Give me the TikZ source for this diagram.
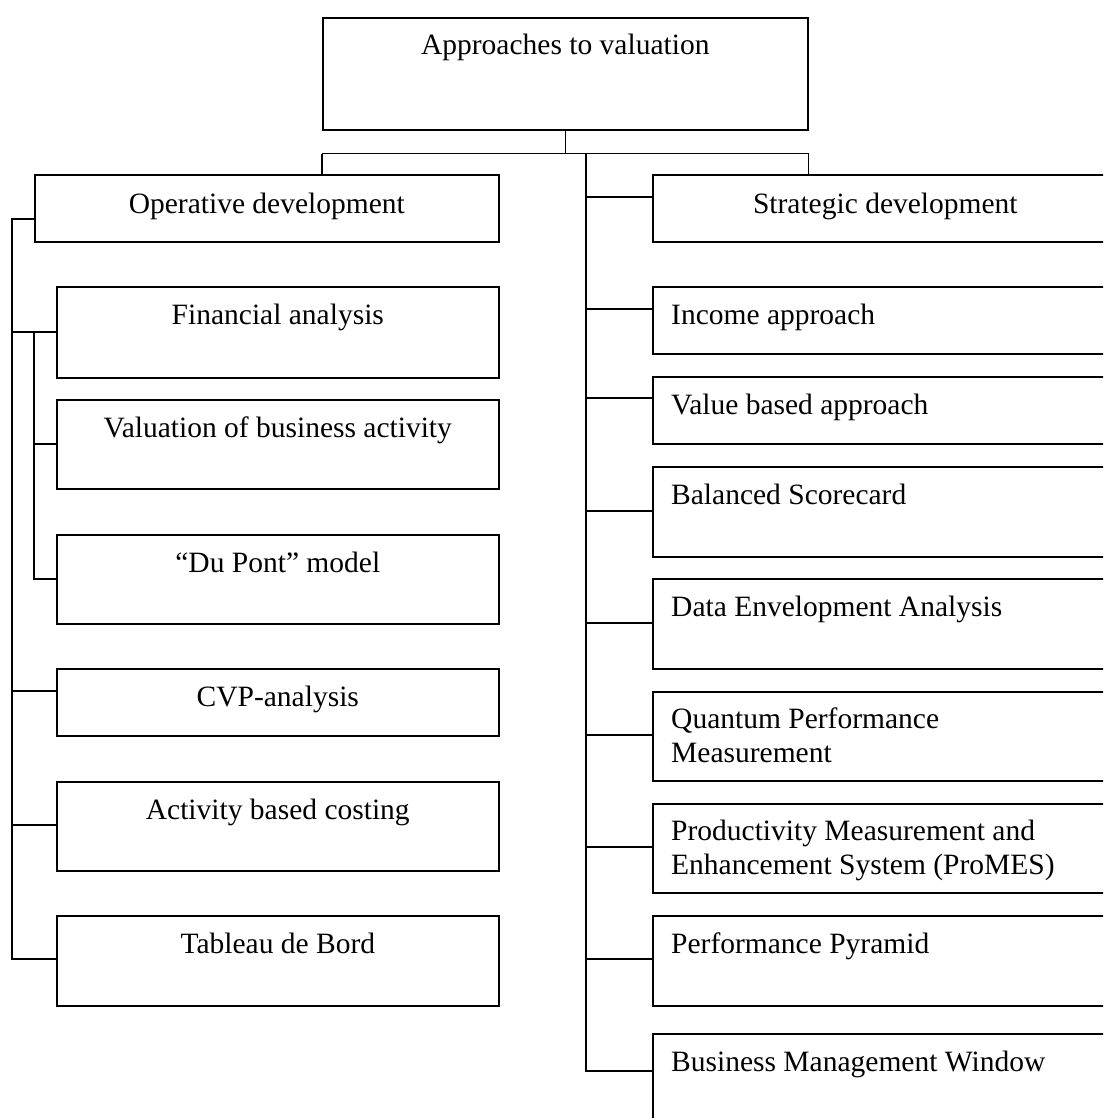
\documentclass[tikz,border=0pt]{standalone}
\usepackage{fontspec}
\setmainfont{Liberation Serif}
\begin{document}
\begin{tikzpicture}[x=1pt,y=1pt,
  box/.style={draw, line width=1.6pt, rectangle, anchor=north west, inner sep=0pt},
  lbox/.style={box, minimum width=442pt},
  rbox/.style={box, minimum width=465pt},
  lbl/.style={inner sep=0pt, font=\fontsize{29.5}{34.5}\selectfont},
  wire/.style={line width=1.6pt}]
\useasboundingbox (0,0) rectangle (1103,-1118);
\clip (0,0) rectangle (1103,-1118);

% boxes
\node[box, minimum width=485pt, minimum height=112pt] (top) at (322,-17) {};
\node[box, minimum width=464pt, minimum height=67pt] (op) at (34,-174) {};
\node[rbox, minimum height=67pt] (st) at (652,-174) {};

\node[lbox, minimum height=91pt] (fin) at (56,-286) {};
\node[lbox, minimum height=89pt] (val) at (56,-399) {};
\node[lbox, minimum height=89pt] (dup) at (56,-534) {};
\node[lbox, minimum height=67pt] (cvp) at (56,-668) {};
\node[lbox, minimum height=89pt] (abc) at (56,-781) {};
\node[lbox, minimum height=90pt] (tab) at (56,-915) {};

\node[rbox, minimum height=67pt] (inc) at (652,-286) {};
\node[rbox, minimum height=67pt] (vba) at (652,-376) {};
\node[rbox, minimum height=90pt] (bsc) at (652,-466) {};
\node[rbox, minimum height=90pt] (dea) at (652,-578) {};
\node[rbox, minimum height=89pt] (qpm) at (652,-691) {};
\node[rbox, minimum height=89pt] (pro) at (652,-803) {};
\node[rbox, minimum height=90pt] (ppy) at (652,-915) {};
\node[rbox, minimum height=110pt] (bmw) at (652,-1033) {};

% texts
\node[lbl, anchor=base] (ttop) at ([yshift=-38pt]top.north) {Approaches to valuation};
\node[lbl, anchor=base] (top1) at ([yshift=-39pt]op.north) {Operative development};
\node[lbl, anchor=base] (tst) at ([yshift=-39pt]st.north) {Strategic development};

\node[lbl, anchor=base] (tfin) at ([yshift=-38pt]fin.north) {Financial analysis};
\node[lbl, anchor=base] (tval) at ([yshift=-38pt]val.north) {Valuation of business activity};
\node[lbl, anchor=base] (tdup) at ([yshift=-38pt]dup.north) {“Du Pont” model};
\node[lbl, anchor=base] (tcvp) at ([yshift=-38pt]cvp.north) {CVP-analysis};
\node[lbl, anchor=base] (tabc) at ([yshift=-38pt]abc.north) {Activity based costing};
\node[lbl, anchor=base] (ttab) at ([yshift=-38pt]tab.north) {Tableau de Bord};

\node[lbl, anchor=base west] (tinc) at ([xshift=19pt,yshift=-38pt]inc.north west) {Income approach};
\node[lbl, anchor=base west] (tvba) at ([xshift=19pt,yshift=-38pt]vba.north west) {Value based approach};
\node[lbl, anchor=base west] (tbsc) at ([xshift=19pt,yshift=-38pt]bsc.north west) {Balanced Scorecard};
\node[lbl, anchor=base west] (tdea) at ([xshift=19pt,yshift=-38pt]dea.north west) {Data Envelopment Analysis};
\node[lbl, anchor=base west] (tqpm) at ([xshift=19pt,yshift=-37pt]qpm.north west) {\vtop{\hbox{Quantum Performance}\hbox{Measurement}}};
\node[lbl, anchor=base west] (tpro) at ([xshift=19pt,yshift=-37pt]pro.north west) {\vtop{\hbox{Productivity Measurement and}\hbox{Enhancement System (ProMES)}}};
\node[lbl, anchor=base west] (tppy) at ([xshift=19pt,yshift=-38pt]ppy.north west) {Performance Pyramid};
\node[lbl, anchor=base west] (tbmw) at ([xshift=19pt,yshift=-38pt]bmw.north west) {Business Management Window};

% top connectors
\draw[wire] (top.south) -- ++(0,-23) coordinate (j);
\draw[wire] (top.south west |- j) -- (top.south east |- j);
\draw[wire] (top.south west |- j) -- (top.south west |- op.north);
\draw[wire] (top.south east |- j) -- (top.south east |- st.north);

% left tree
\draw[wire] ([yshift=-45pt]op.north west) -- ++(-22,0) -- ([xshift=-44pt,yshift=-44pt]tab.north west) -- ([yshift=-44pt]tab.north west);
\draw[wire] ([yshift=-46pt]fin.north west) -- ++(-44,0);
\draw[wire] ([yshift=-23pt]cvp.north west) -- ++(-44,0);
\draw[wire] ([yshift=-44pt]abc.north west) -- ++(-44,0);
\draw[wire] ([xshift=-22pt,yshift=-46pt]fin.north west) -- ([xshift=-22pt,yshift=-45pt]dup.north west) -- ([yshift=-45pt]dup.north west);
\draw[wire] ([yshift=-45pt]val.north west) -- ++(-22,0);

% right tree
\draw[wire] ([yshift=-38pt]bmw.north west) -- ++(-66,0) coordinate (rb) -- (rb |- j);
\draw[wire] ([yshift=-23pt]st.north west) -- ++(-66,0);
\draw[wire] ([yshift=-23pt]inc.north west) -- ++(-66,0);
\draw[wire] ([yshift=-22pt]vba.north west) -- ++(-66,0);
\draw[wire] ([yshift=-45pt]bsc.north west) -- ++(-66,0);
\draw[wire] ([yshift=-45pt]dea.north west) -- ++(-66,0);
\draw[wire] ([yshift=-44pt]qpm.north west) -- ++(-66,0);
\draw[wire] ([yshift=-44pt]pro.north west) -- ++(-66,0);
\draw[wire] ([yshift=-44pt]ppy.north west) -- ++(-66,0);
\end{tikzpicture}
\end{document}
